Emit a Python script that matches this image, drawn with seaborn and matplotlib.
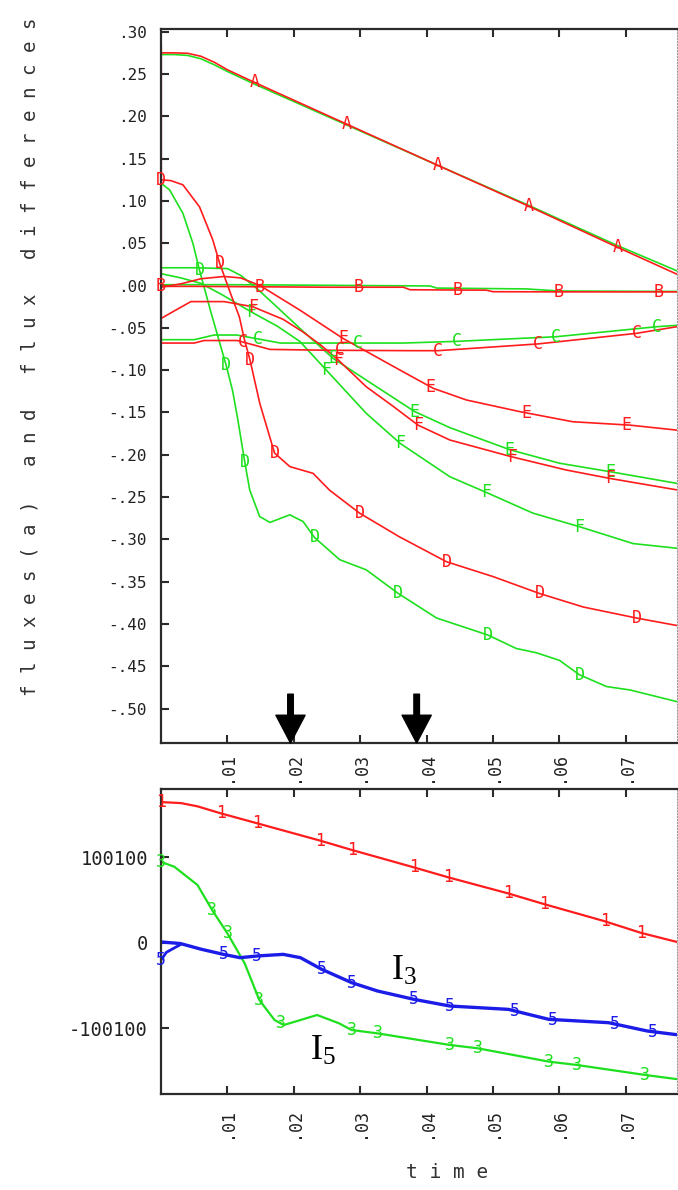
import numpy as np
import matplotlib
matplotlib.use('Agg')
import matplotlib.pyplot as plt
import seaborn as sns

# ---------------- data: top panel (fluxes and flux differences) ----------------
a_red_x = [0, 0.002, 0.004, 0.006, 0.008, 0.010, 0.0141, 0.0279, 0.0417, 0.0553, 0.0688, 0.0778]
a_red_y = [0.275, 0.275, 0.2745, 0.271, 0.264, 0.255, 0.240, 0.191, 0.142, 0.094, 0.045, 0.013]
a_green_x = [0, 0.002, 0.004, 0.006, 0.008, 0.010, 0.0141, 0.0279, 0.0417, 0.0553, 0.0688, 0.0778]
a_green_y = [0.273, 0.273, 0.272, 0.268, 0.261, 0.253, 0.238, 0.190, 0.142, 0.095, 0.047, 0.017]
a_marks = [0.0141, 0.0279, 0.0417, 0.0553, 0.0688]

red_edge_x = [0, 0]
red_edge_y = [-0.068, 0.283]

b_red_x = [0, 0.005, 0.015, 0.025, 0.0365, 0.0375, 0.049, 0.050, 0.060, 0.0778]
b_red_y = [-0.001, -0.001, -0.0015, -0.002, -0.002, -0.005, -0.0055, -0.0073, -0.0075, -0.0075]
b_green_x = [0, 0.01, 0.02, 0.03, 0.0405, 0.0415, 0.055, 0.060, 0.0778]
b_green_y = [0.001, 0.001, 0.0005, 0.0, -0.0005, -0.003, -0.004, -0.0065, -0.007]
b_marks = [0, 0.0149, 0.0297, 0.0447, 0.0598, 0.0749]

c_red_x = [0, 0.005, 0.0065, 0.0115, 0.0164, 0.025, 0.038, 0.0417, 0.0568, 0.0716, 0.0778]
c_red_y = [-0.068, -0.068, -0.065, -0.065, -0.0755, -0.0765, -0.077, -0.077, -0.069, -0.0565, -0.0485]
c_red_marks = [0.0123, 0.0270, 0.0417, 0.0568, 0.0716]
c_green_x = [0, 0.005, 0.008, 0.0114, 0.018, 0.0364, 0.0445, 0.0595, 0.0746, 0.0778]
c_green_y = [-0.064, -0.064, -0.0585, -0.0585, -0.068, -0.068, -0.066, -0.0605, -0.0487, -0.047]
c_green_marks = [0.0146, 0.0297, 0.0445, 0.0595, 0.0746]

d_red_x = [0, 0.0015, 0.0033, 0.0058, 0.0078, 0.0088, 0.0105, 0.0118, 0.0125, 0.0134, 0.0149,
           0.0171, 0.0194, 0.0229, 0.0254, 0.0299, 0.0359, 0.043, 0.050, 0.057, 0.0636, 0.0716, 0.0778]
d_red_y = [0.125, 0.124, 0.119, 0.093, 0.054, 0.027, -0.010, -0.037, -0.062, -0.088, -0.140,
           -0.198, -0.214, -0.222, -0.242, -0.269, -0.297, -0.3265, -0.344, -0.364, -0.380, -0.393, -0.402]
d_red_marks = [0, 0.0088, 0.0134, 0.0171, 0.0299, 0.043, 0.057, 0.0716]
d_green_x = [0, 0.0013, 0.0033, 0.0048, 0.0058, 0.0075, 0.0098, 0.0108, 0.0116, 0.0126, 0.01336,
             0.01486, 0.0164, 0.0194, 0.0214, 0.0231, 0.0269, 0.0309, 0.0357, 0.0415, 0.0492,
             0.0535, 0.0565, 0.060, 0.063, 0.0671, 0.0706, 0.0778]
d_green_y = [0.121, 0.113, 0.0853, 0.05, 0.018, -0.031, -0.094, -0.125, -0.160, -0.208, -0.2417,
             -0.273, -0.280, -0.271, -0.279, -0.2977, -0.324, -0.336, -0.3638, -0.393, -0.413,
             -0.429, -0.434, -0.443, -0.460, -0.474, -0.478, -0.492]
d_green_marks = [0.0058, 0.0098, 0.0126, 0.0231, 0.0357, 0.0492, 0.063]

e_red_x = [0, 0.003, 0.006, 0.0095, 0.012, 0.0149, 0.0209, 0.0274, 0.036, 0.041, 0.046, 0.054, 0.062, 0.0706, 0.0778]
e_red_y = [-0.002, 0.002, 0.008, 0.0107, 0.009, 0.0, -0.029, -0.0625, -0.100, -0.1215, -0.1353, -0.149, -0.161, -0.165, -0.171]
e_red_marks = [0.0274, 0.0405, 0.055, 0.0701]
e_green_x = [0, 0.005, 0.0100, 0.012, 0.0145, 0.017, 0.0209, 0.0259, 0.0309, 0.0382, 0.0435, 0.0525, 0.060, 0.0676, 0.0778]
e_green_y = [0.021, 0.021, 0.020, 0.012, -0.004, -0.022, -0.0505, -0.086, -0.1117, -0.149, -0.168, -0.194, -0.210, -0.220, -0.234]
e_green_marks = [0.0259, 0.0382, 0.0525, 0.0676]

f_red_x = [0, 0.002, 0.0045, 0.0095, 0.0138, 0.0184, 0.0214, 0.024, 0.0267, 0.0309, 0.035, 0.0387, 0.0435, 0.0528, 0.061, 0.0676, 0.0778]
f_red_y = [-0.039, -0.030, -0.019, -0.019, -0.025, -0.040, -0.055, -0.070, -0.088, -0.1196, -0.143, -0.165, -0.1826, -0.2024, -0.218, -0.228, -0.2417]
f_red_marks = [0.0138, 0.0267, 0.0387, 0.0528, 0.0676]
f_green_x = [0, 0.003, 0.006, 0.009, 0.01355, 0.0175, 0.0209, 0.0249, 0.0309, 0.036, 0.0435, 0.049, 0.056, 0.063, 0.0711, 0.0778]
f_green_y = [0.014, 0.009, 0.0026, -0.010, -0.031, -0.048, -0.066, -0.100, -0.151, -0.1865, -0.226, -0.2446, -0.269, -0.285, -0.305, -0.3106]
f_green_marks = [0.01355, 0.0249, 0.036, 0.049, 0.063]

top_yticks = [0.30, 0.25, 0.20, 0.15, 0.10, 0.05, 0.00, -0.05, -0.10, -0.15, -0.20, -0.25, -0.30, -0.35, -0.40, -0.45, -0.50]
top_yticklabels = ['.30', '.25', '.20', '.15', '.10', '.05', '.00', '-.05', '-.10', '-.15', '-.20',
                   '-.25', '-.30', '-.35', '-.40', '-.45', '-.50']
xticks = [0.01, 0.02, 0.03, 0.04, 0.05, 0.06, 0.07]
xticklabels = ['.01', '.02', '.03', '.04', '.05', '.06', '.07']

arrow_x = [0.0195, 0.0385]
arrow_top = -0.483

# ---------------- data: bottom panel ----------------
i1_x = [0, 0.003, 0.0055, 0.009, 0.0145, 0.0239, 0.0287, 0.0381, 0.0432, 0.0523, 0.0577, 0.0668, 0.0723, 0.0778]
i1_y = [165000, 163800, 160000, 151800, 140100, 120000, 109000, 88500, 77000, 58000, 45500, 25500, 11800, 1000]
i1_marks = [0, 0.009, 0.0145, 0.0239, 0.0287, 0.0381, 0.0432, 0.0523, 0.0577, 0.0668, 0.0723]

i5_x = [0, 0.002, 0.0055, 0.0077, 0.0100, 0.0126, 0.0148, 0.0171, 0.0185, 0.021, 0.0235, 0.0268,
        0.0287, 0.0326, 0.0435, 0.0477, 0.0584, 0.0626, 0.0729, 0.0778]
i5_y = [95000, 89300, 67900, 38600, 11300, -23800, -66700, -90200, -96000, -90200, -84300, -94000,
        -101900, -105800, -119400, -123300, -138900, -142800, -154500, -159500]
i5_marks = [0, 0.0077, 0.0100, 0.0148, 0.018, 0.0287, 0.0326, 0.0435, 0.0477, 0.0584, 0.0626, 0.0729]

i3_x = [0, 0.0029, 0.0061, 0.0094, 0.0119, 0.0145, 0.0184, 0.021, 0.0242, 0.0287, 0.0326, 0.0381,
        0.0435, 0.0523, 0.0584, 0.0674, 0.0732, 0.0778]
i3_y = [1200, -600, -7400, -13300, -17200, -15200, -13300, -17200, -30800, -46400, -56200, -66000,
        -73800, -77700, -89400, -93300, -103000, -107500]
i3_marks = [0.0094, 0.0145, 0.0242, 0.0287, 0.0381, 0.0435, 0.0533, 0.059, 0.0683, 0.0741]
i3_hook_x = [0, 0.0008, 0.0016, 0.0029]
i3_hook_y = [-20000, -11000, -7500, -2000]
i3_hook_marks = [0]

bot_yticks = [100100, 0, -100100]
bot_yticklabels = ['100100', '0', '-100100']

label_text = ['$\\mathregular{I_3}$', '$\\mathregular{I_5}$']
label_x = [0.0346, 0.0225]
label_y = [-43300, -137000]

# ---------------- styling ----------------
sns.set_theme(style='white')
plt.rcParams['font.family'] = ['DejaVu Sans Mono', 'DejaVu Sans']
plt.rcParams['mathtext.fontset'] = 'custom'

RED = '#ff1c1c'
GREEN = '#1ee01e'
BLUE = '#1c1ce8'
INK = '#2b2b2b'

fig = plt.figure(figsize=(6.78, 11.9), dpi=100)
ax1 = fig.add_axes([161 / 678, 1 - 743 / 1190, 516 / 678, 714 / 1190])
ax2 = fig.add_axes([161 / 678, 1 - 1094 / 1190, 516 / 678, 305 / 1190])


def draw(ax, x, y, color, lw, marks, letter, fs):
    sns.lineplot(x=x, y=y, ax=ax, color=color, linewidth=lw, sort=False,
                 estimator=None, legend=False)
    if marks:
        my = np.interp(marks, x, y)
        for mx_, my_ in zip(marks, my):
            ax.text(mx_, my_, letter, color=color, fontsize=fs, ha='center',
                    va='center', family='DejaVu Sans Mono', clip_on=False)


LW = 1.2
FS = 12
# greens first, reds on top (red A/B markers cover the coincident green ones)
draw(ax1, a_green_x, a_green_y, GREEN, LW, [], 'A', FS)
draw(ax1, b_green_x, b_green_y, GREEN, LW, [], 'B', FS)
draw(ax1, c_green_x, c_green_y, GREEN, LW, c_green_marks, 'C', FS)
draw(ax1, d_green_x, d_green_y, GREEN, LW, d_green_marks, 'D', FS)
draw(ax1, e_green_x, e_green_y, GREEN, LW, e_green_marks, 'E', FS)
draw(ax1, f_green_x, f_green_y, GREEN, LW, f_green_marks, 'F', FS)
draw(ax1, red_edge_x, red_edge_y, RED, LW * 1.3, [], '', FS)
draw(ax1, a_red_x, a_red_y, RED, LW, a_marks, 'A', FS)
draw(ax1, b_red_x, b_red_y, RED, LW, b_marks, 'B', FS)
draw(ax1, c_red_x, c_red_y, RED, LW, c_red_marks, 'C', FS)
draw(ax1, d_red_x, d_red_y, RED, LW, d_red_marks, 'D', FS)
draw(ax1, e_red_x, e_red_y, RED, LW, e_red_marks, 'E', FS)
draw(ax1, f_red_x, f_red_y, RED, LW, f_red_marks, 'F', FS)

ax1.set_xlim(0, 0.0777)
ax1.set_ylim(-0.5407, 0.3032)

for xa in arrow_x:
    ax1.annotate('', xy=(xa, -0.5407), xytext=(xa, arrow_top),
                 arrowprops=dict(facecolor='black', edgecolor='black', width=4.0,
                                 headwidth=21, headlength=20, shrink=0),
                 annotation_clip=False)

draw(ax2, i1_x, i1_y, RED, 1.6, i1_marks, '1', FS)
draw(ax2, i5_x, i5_y, GREEN, 1.6, i5_marks, '3', FS)
draw(ax2, i3_hook_x, i3_hook_y, BLUE, 2.0, i3_hook_marks, '5', FS)
draw(ax2, i3_x, i3_y, BLUE, 2.4, i3_marks, '5', FS)
ax2.set_xlim(0, 0.0777)
ax2.set_ylim(-176800, 180300)

for t, lx, ly in zip(label_text, label_x, label_y):
    ax2.text(lx, ly, t, fontsize=26, family='Liberation Serif', color='black',
             ha='left', va='baseline')

for ax in (ax1, ax2):
    for s in ('left', 'top', 'bottom'):
        ax.spines[s].set_color(INK)
        ax.spines[s].set_linewidth(1.6)
    ax.spines['right'].set_color('#9a9a9a')
    ax.spines['right'].set_linewidth(0.8)
    ax.spines['right'].set_linestyle(':')
    ax.set_xticks(xticks)
    ax.set_xticklabels(xticklabels, rotation=90)
    ax.tick_params(axis='x', which='both', direction='in', top=True, bottom=True,
                   length=6, width=1.5, color=INK, labelcolor='#222222')
    ax.tick_params(axis='y', which='both', direction='in', left=True, right=False,
                   length=6, width=1.5, color=INK, labelcolor='#222222')
    ax.set_xlabel('')
    ax.set_ylabel('')
    ax.grid(False)

ax1.set_yticks(top_yticks)
ax1.set_yticklabels(top_yticklabels)
ax1.tick_params(axis='y', labelsize=11.5, pad=10)
ax1.tick_params(axis='x', labelsize=12, pad=6.5)

ax2.set_yticks(bot_yticks)
ax2.set_yticklabels(bot_yticklabels)
ax2.tick_params(axis='y', labelsize=13.5, pad=9.5)
ax2.tick_params(axis='x', labelsize=12, pad=10)

fig.text(30 / 678, 1 - 357 / 1190,
         'f l u x e s ( a )   a n d   f l u x   d i f f e r e n c e s',
         rotation=90, ha='center', va='center', fontsize=13.8, color='#333333',
         family='DejaVu Sans Mono')
fig.text(447 / 678, 1 - 1173 / 1190, 't i m e', ha='center', va='center',
         fontsize=14, color='#333333', family='DejaVu Sans Mono')

fig.savefig('out.png', dpi=100, facecolor='white')
